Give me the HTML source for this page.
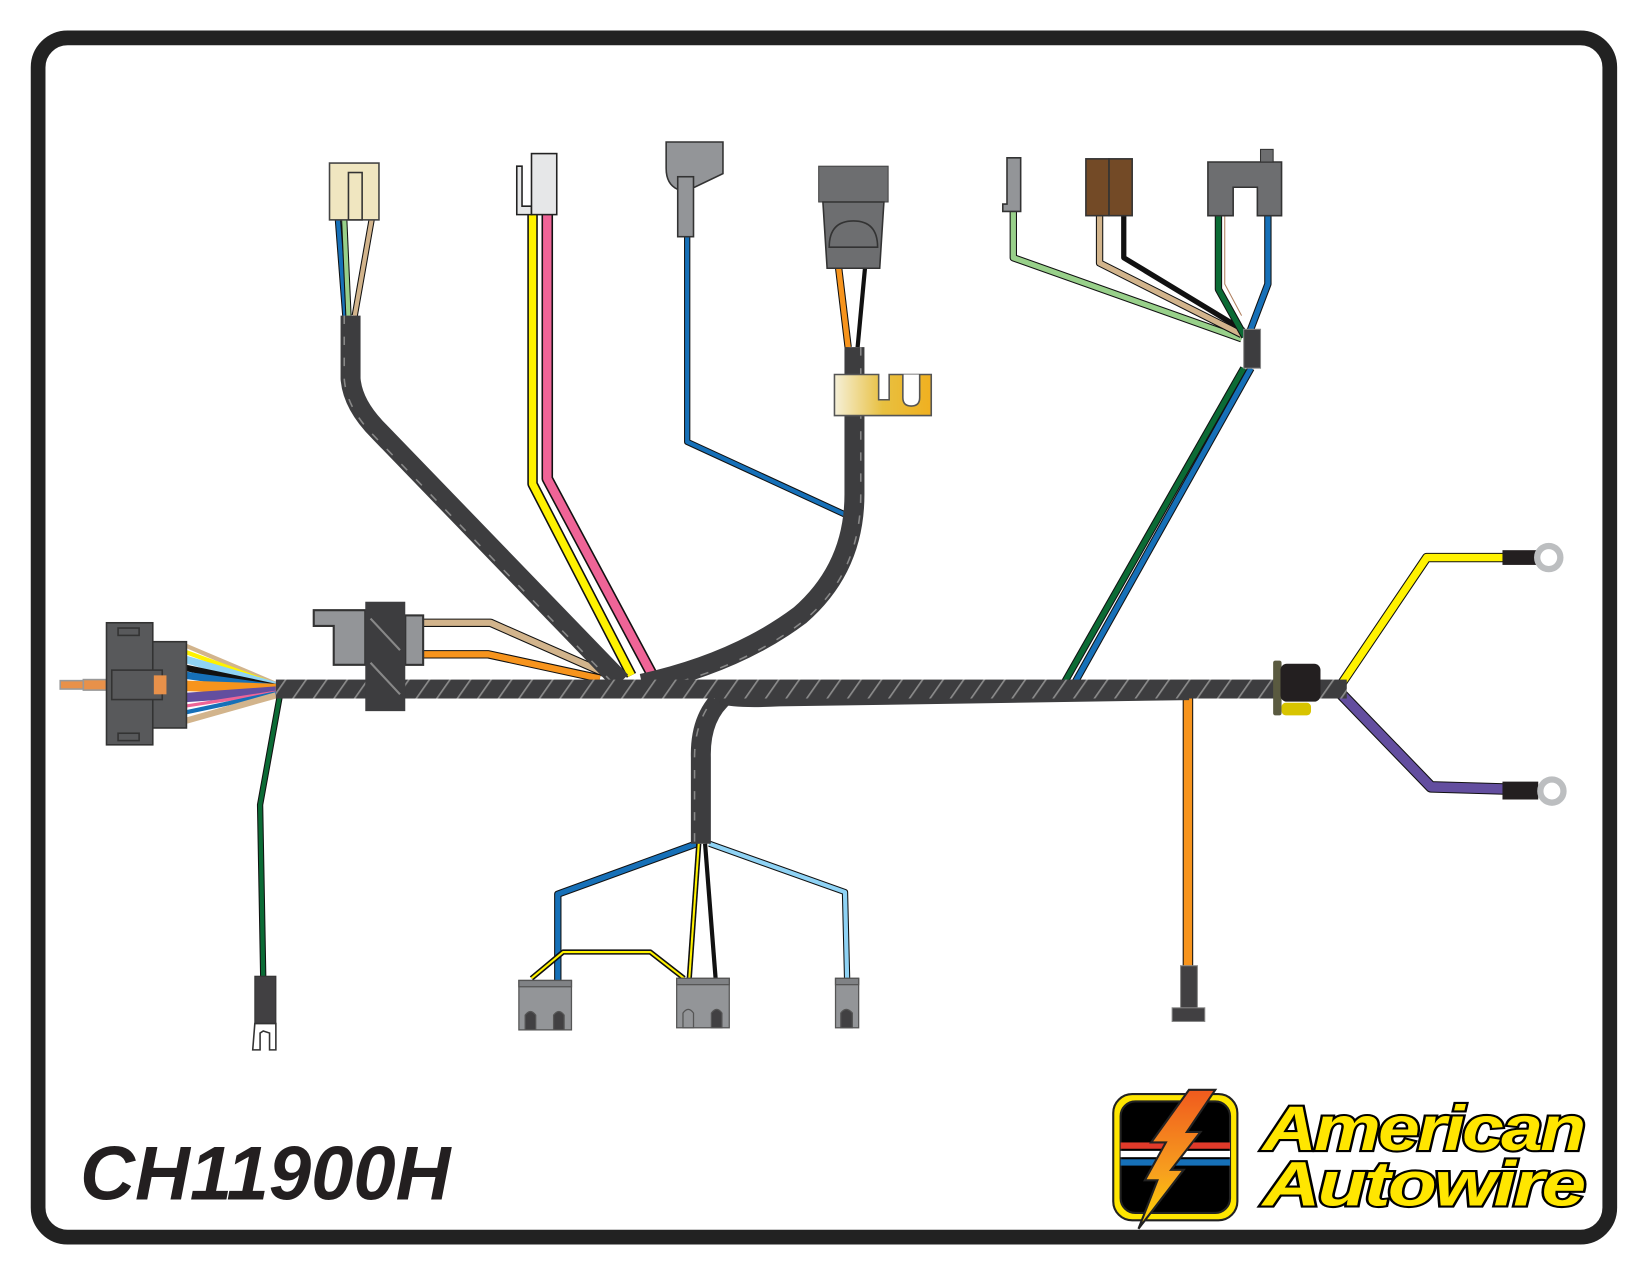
<!DOCTYPE html>
<html><head><meta charset="utf-8"><style>
html,body{margin:0;padding:0;background:#fff;}
svg{display:block;}
</style></head><body>
<svg width="1650" height="1275" viewBox="0 0 1568 1212" xmlns="http://www.w3.org/2000/svg">
<defs>
<pattern id="hatch" width="16" height="16" patternUnits="userSpaceOnUse" patternTransform="rotate(35)">
<rect width="16" height="16" fill="#3d3d3f"/>
<rect x="0" y="0" width="1.6" height="16" fill="#8a8a8a"/>
</pattern>
<linearGradient id="gold" x1="0" x2="1"><stop offset="0" stop-color="#f5f0d8"/><stop offset="0.5" stop-color="#e8c040"/><stop offset="1" stop-color="#f0b020"/></linearGradient>
<linearGradient id="bolt" x1="0" y1="0" x2="0" y2="1"><stop offset="0" stop-color="#f05a1e"/><stop offset="0.6" stop-color="#f7a01e"/><stop offset="1" stop-color="#ffd800"/></linearGradient>
</defs>
<rect x="36" y="36" width="1494" height="1140" rx="28" fill="#fff" stroke="#222" stroke-width="14"/>

<g fill="none" stroke-linejoin="round">
<path d="M321 209 L328 300" stroke="#111" stroke-width="6"/><path d="M321 209 L328 300" stroke="#1670b8" stroke-width="4"/>
<path d="M327 209 L331 300" stroke="#111" stroke-width="6"/><path d="M327 209 L331 300" stroke="#98d08a" stroke-width="4"/>
<path d="M353 209 L337 300" stroke="#111" stroke-width="6"/><path d="M353 209 L337 300" stroke="#d2b48c" stroke-width="4"/>
<path d="M506 204 L506 460 L600 642" stroke="#111" stroke-width="10"/><path d="M506 204 L506 460 L600 642" stroke="#fff200" stroke-width="7"/>
<path d="M520 204 L520 455 L620 642" stroke="#111" stroke-width="11"/><path d="M520 204 L520 455 L620 642" stroke="#ef6497" stroke-width="8"/>
<path d="M653 225 L653 420 L805 490" stroke="#111" stroke-width="6"/><path d="M653 225 L653 420 L805 490" stroke="#1670b8" stroke-width="4"/>
<path d="M797 255 L806 330" stroke="#111" stroke-width="7"/><path d="M797 255 L806 330" stroke="#f7941d" stroke-width="5"/>
<path d="M822 255 L815 330" stroke="#111" stroke-width="4"/>
<path d="M963 200 L963 245 L1180 322" stroke="#111" stroke-width="7"/><path d="M963 200 L963 245 L1180 322" stroke="#98d08a" stroke-width="5"/>
<path d="M1045 205 L1045 250 L1180 318" stroke="#111" stroke-width="7"/><path d="M1045 205 L1045 250 L1180 318" stroke="#d2b48c" stroke-width="5"/>
<path d="M1068 205 L1068 245 L1182 314" stroke="#111" stroke-width="5"/>
<path d="M1158 205 L1158 275 L1183 320" stroke="#111" stroke-width="7"/><path d="M1158 205 L1158 275 L1183 320" stroke="#0b6b35" stroke-width="5"/>
<path d="M1205 205 L1205 270 L1186 320" stroke="#111" stroke-width="7"/><path d="M1205 205 L1205 270 L1186 320" stroke="#1670b8" stroke-width="5"/>
<path d="M1164 205 L1164 270 L1180 300" stroke="#b08060" stroke-width="1"/>
<path d="M1182 350 L1012 648" stroke="#111" stroke-width="7"/><path d="M1182 350 L1012 648" stroke="#0b6b35" stroke-width="5"/>
<path d="M1189 350 L1022 648" stroke="#111" stroke-width="7"/><path d="M1189 350 L1022 648" stroke="#1670b8" stroke-width="5"/>
<path d="M402 592 L466 592 L575 640" stroke="#111" stroke-width="8"/><path d="M402 592 L466 592 L575 640" stroke="#d2b48c" stroke-width="6"/>
<path d="M402 622 L464 622 L570 645" stroke="#111" stroke-width="8"/><path d="M402 622 L464 622 L570 645" stroke="#f7941d" stroke-width="6"/>
<!-- left fan -->
<path d="M177 614 L262 650" stroke="#d2b48c" stroke-width="4"/>
<path d="M177 620 L262 651" stroke="#fff200" stroke-width="4"/>
<path d="M177 627 L262 652" stroke="#8fd3f5" stroke-width="7"/>
<path d="M177 635 L262 653" stroke="#111" stroke-width="6"/>
<path d="M177 642 L262 654" stroke="#1670b8" stroke-width="7"/>
<path d="M177 652 L262 655" stroke="#f7941d" stroke-width="10"/>
<path d="M177 663 L262 657" stroke="#634e9f" stroke-width="9"/>
<path d="M177 671 L262 658" stroke="#ef6497" stroke-width="3"/>
<path d="M177 677 L262 659" stroke="#1670b8" stroke-width="4"/>
<path d="M177 685 L262 661" stroke="#d2b48c" stroke-width="6"/>
<path d="M266 660 L247 765 L250 930" stroke="#111" stroke-width="6"/><path d="M266 660 L247 765 L250 930" stroke="#0b6b35" stroke-width="4"/>
<path d="M1129 660 L1129 918" stroke="#111" stroke-width="10"/><path d="M1129 660 L1129 918" stroke="#f7941d" stroke-width="8"/>
<path d="M1275 650 L1356 530 L1430 530" stroke="#111" stroke-width="9"/><path d="M1275 650 L1356 530 L1430 530" stroke="#fff200" stroke-width="7"/>
<path d="M1275 660 L1360 748 L1430 750" stroke="#111" stroke-width="11"/><path d="M1275 660 L1360 748 L1430 750" stroke="#634e9f" stroke-width="9"/>
<path d="M662 802 L530 850 L530 932" stroke="#111" stroke-width="7"/><path d="M662 802 L530 850 L530 932" stroke="#1670b8" stroke-width="5"/>
<path d="M664 802 L655 930" stroke="#111" stroke-width="5"/><path d="M664 802 L655 930" stroke="#fff200" stroke-width="2"/>
<path d="M670 802 L680 930" stroke="#111" stroke-width="4"/>
<path d="M674 802 L803 848 L805 930" stroke="#111" stroke-width="6"/><path d="M674 802 L803 848 L805 930" stroke="#8fd3f5" stroke-width="4"/>
<path d="M505 930 L535 905 L618 905 L650 930" stroke="#111" stroke-width="5"/><path d="M505 930 L535 905 L618 905 L650 930" stroke="#fff200" stroke-width="2"/>

<g stroke="#3d3d3f" stroke-width="19">
<path d="M333 300 L333 360 Q335 385 360 410 L590 648"/>
<path d="M812 330 L812 470 Q812 540 760 585 Q700 630 610 650"/>
<path d="M690 660 Q665 680 666 720 L666 802"/>
<path d="M686 660 Q700 664 740 662 L1130 656"/>
</g>
<g stroke="#888" stroke-width="1.5" stroke-dasharray="8 12">
<path d="M327 300 L327 360 Q329 387 354 413 L584 651"/>
<path d="M818 330 L818 470 Q818 545 764 590 Q705 636 615 656"/>
<path d="M660 800 L660 720 Q660 680 686 656"/>
</g>
</g>
<rect x="262" y="646" width="1018" height="18" fill="url(#hatch)"/>
<rect x="1182" y="313" width="16" height="37" fill="#3d3d3f" stroke="#888" stroke-width="1"/>

<g stroke="#333" stroke-width="1.5">
<rect x="57" y="647" width="22" height="8" fill="#e8914a" stroke="#999"/>
<rect x="79" y="646" width="22" height="10" fill="#e8914a" stroke="#999"/>
<rect x="101" y="592" width="44" height="116" fill="#58595b"/>
<rect x="145" y="610" width="32" height="82" fill="#58595b"/>
<rect x="112" y="597" width="20" height="7" fill="#58595b"/>
<rect x="112" y="697" width="20" height="7" fill="#58595b"/>
<rect x="106" y="637" width="48" height="28" fill="#58595b"/>
<rect x="146" y="642" width="12" height="18" fill="#e8914a" stroke="none"/>
</g>
<path d="M298 580 L347 580 L347 632 L317 632 L317 595 L298 595 Z" fill="#939598" stroke="#333" stroke-width="2"/>
<rect x="385" y="585" width="17" height="47" fill="#939598" stroke="#333" stroke-width="2"/>
<rect x="347" y="572" width="38" height="104" fill="#3d3d3f"/>
<path d="M352 588 L380 618 M352 630 L380 660" stroke="#888" stroke-width="2"/>

<rect x="313" y="155" width="47" height="54" fill="#f0e6c0" stroke="#444" stroke-width="1.5"/>
<rect x="331" y="164" width="13" height="45" fill="#f0e6c0" stroke="#333" stroke-width="1.5"/>
<path d="M491 204 L491 158 L496 158 L496 196 L505 196 L505 204 Z" fill="#e6e7e8" stroke="#222" stroke-width="1.5"/>
<rect x="505" y="146" width="24" height="58" fill="#e6e7e8" stroke="#222" stroke-width="1.5"/>
<path d="M633 135 L687 135 L687 165 L660 178 L644 180 Q633 175 633 160 Z" fill="#939598" stroke="#333" stroke-width="1.5"/>
<rect x="644" y="168" width="15" height="57" fill="#939598" stroke="#333" stroke-width="1.5"/>
<rect x="778" y="158" width="66" height="34" fill="#6d6e70" stroke="#444" stroke-width="1"/>
<path d="M782 192 L840 192 L836 255 L786 255 Z" fill="#6d6e70" stroke="#333" stroke-width="1.5"/>
<path d="M788 235 Q788 210 811 210 Q834 210 834 235 Z" fill="#6d6e70" stroke="#333" stroke-width="1.5"/>
<path d="M793 356 L835 356 L835 380 L845 380 L845 356 L885 356 L885 395 L793 395 Z" fill="url(#gold)" stroke="#555" stroke-width="1.5"/>
<path d="M858 356 L858 378 Q858 386 866 386 Q874 386 874 378 L874 356" fill="#fff" stroke="#555" stroke-width="1.5"/>
<path d="M957 150 L970 150 L970 201 L953 201 L953 194 L957 194 Z" fill="#939598" stroke="#333" stroke-width="1.5"/>
<rect x="1032" y="151" width="22" height="54" fill="#734a26" stroke="#333" stroke-width="1.5"/>
<rect x="1054" y="151" width="22" height="54" fill="#734a26" stroke="#333" stroke-width="1.5"/>
<path d="M1148 154 L1218 154 L1218 205 L1195 205 L1195 178 L1172 178 L1172 205 L1148 205 Z" fill="#6d6e70" stroke="#333" stroke-width="1.5"/>
<rect x="1198" y="142" width="12" height="12" fill="#6d6e70" stroke="#333" stroke-width="1"/>
<rect x="1210" y="628" width="8" height="52" rx="2" fill="#5a5a40"/>
<rect x="1218" y="668" width="28" height="12" rx="4" fill="#d8c400"/>
<rect x="1217" y="631" width="38" height="36" rx="6" fill="#231f20"/>
<rect x="1428" y="523" width="32" height="14" fill="#231f20"/>
<circle cx="1472" cy="530" r="11" fill="#fff" stroke="#bcbec0" stroke-width="6"/>
<rect x="1428" y="743" width="34" height="17" fill="#231f20"/>
<circle cx="1475" cy="752" r="11" fill="#fff" stroke="#bcbec0" stroke-width="6"/>
<rect x="1122" y="918" width="16" height="42" fill="#414042" stroke="#888"/>
<rect x="1114" y="958" width="31" height="13" fill="#414042" stroke="#888"/>
<rect x="242" y="928" width="20" height="45" fill="#414042" stroke="#333"/>
<path d="M242 973 L262 973 L262 998 L256 998 L256 982 L250 980 L247 982 L247 998 L240 998 Z" fill="#fff" stroke="#333" stroke-width="1.5"/>
<g stroke="#555" stroke-width="1.2">
<rect x="493" y="932" width="50" height="47" fill="#939598"/>
<rect x="493" y="932" width="50" height="6" fill="#808285"/>
<path d="M499 979 L499 965 Q504 958 509 965 L509 979 Z M526 979 L526 965 Q531 958 536 965 L536 979 Z" fill="#414042"/>
<rect x="643" y="930" width="50" height="47" fill="#939598"/>
<rect x="643" y="930" width="50" height="6" fill="#808285"/>
<path d="M649 977 L649 963 Q654 956 659 963 L659 977 Z" fill="#939598"/>
<path d="M676 977 L676 963 Q681 956 686 963 L686 977 Z" fill="#414042"/>
<rect x="794" y="930" width="22" height="47" fill="#939598"/>
<rect x="794" y="930" width="22" height="6" fill="#808285"/>
<path d="M799 977 L799 963 Q804 956 810 963 L810 977 Z" fill="#414042"/>
</g>

<text x="76" y="1140" font-family="Liberation Sans, sans-serif" font-weight="bold" font-style="italic" font-size="72" fill="#231f20" textLength="352" lengthAdjust="spacingAndGlyphs">CH11900H</text>

<rect x="1058" y="1040" width="118" height="120" rx="18" fill="#ffe600" stroke="#222" stroke-width="2"/>
<rect x="1065" y="1047" width="104" height="106" rx="14" fill="#000" stroke="#222" stroke-width="2"/>
<rect x="1065" y="1086" width="104" height="6" fill="#e03a2a"/>
<rect x="1065" y="1094" width="104" height="6" fill="#fff"/>
<rect x="1065" y="1102" width="104" height="6" fill="#1670b8"/>
<path d="M1130 1036 L1155 1036 L1128 1076 L1141 1076 L1113 1112 L1125 1112 L1082 1168 L1100 1122 L1088 1122 L1108 1086 L1094 1086 Z" fill="url(#bolt)" stroke="#222" stroke-width="2"/>
<g font-family="Liberation Sans, sans-serif" font-weight="bold" font-style="italic" font-size="60" fill="#ffe600" stroke="#000" stroke-width="4" paint-order="stroke" letter-spacing="-2">
<text x="1200" y="1093" textLength="305" lengthAdjust="spacingAndGlyphs">American</text>
<text x="1200" y="1146" textLength="305" lengthAdjust="spacingAndGlyphs">Autowire</text>
</g>
</svg>
</body></html>
